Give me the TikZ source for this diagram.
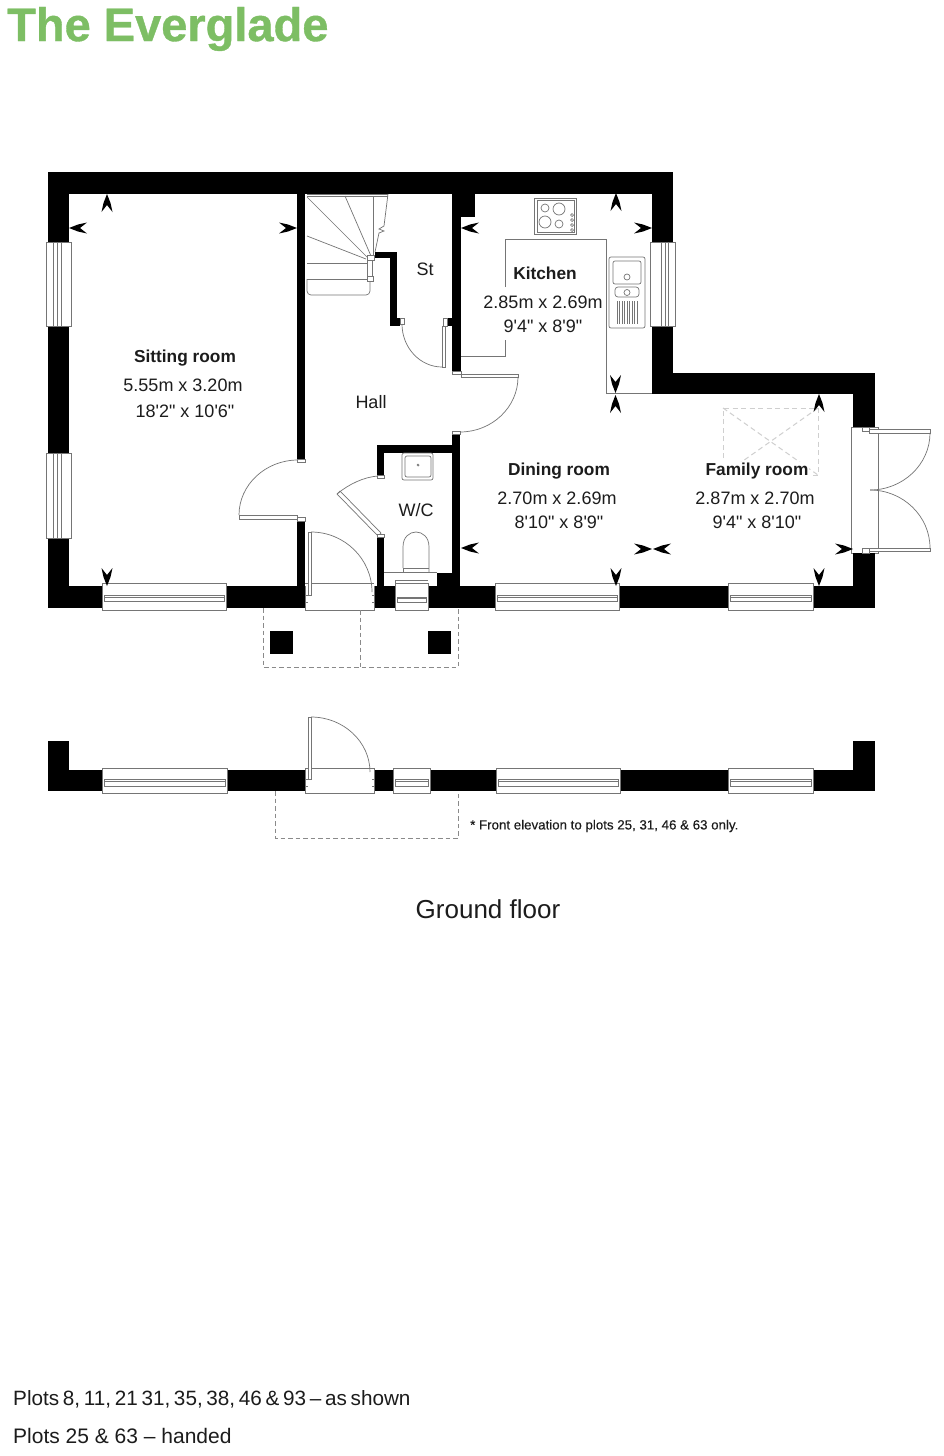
\documentclass[tikz,border=0pt]{standalone}
\usepackage{fontspec}
\setmainfont[Ligatures=TeXOff]{Liberation Sans}
\newfontfamily\titlefont[BoldFeatures={FakeBold=0.8},Ligatures=TeXOff]{Liberation Sans}
\newfontfamily\notefont[FakeBold=0.25,Ligatures=TeXOff]{Liberation Sans}
\usetikzlibrary{calc}
\definecolor{evgreen}{HTML}{7DBE64}
\definecolor{fineline}{HTML}{757575}
\definecolor{paleline}{HTML}{CFCFCF}
\definecolor{inktext}{HTML}{1C1C1C}
\tikzset{
  thin line/.style={draw=fineline,line width=0.7pt},
  open fill/.style={thin line,fill=white},
  dash porch/.style={draw=fineline!85,line width=0.7pt,dash pattern=on 4.5pt off 3pt},
  dash sky/.style={draw=paleline,line width=1pt,dash pattern=on 5pt off 3.5pt},
  roomname/.style={font=\fontsize{17.3}{20}\selectfont\bfseries,text=inktext,inner sep=1pt},
  roomsize/.style={font=\fontsize{18}{20}\selectfont,text=inktext,inner sep=1pt},
}
\newcommand\wall[4]{\fill[black] (#1,#2) rectangle (#3,#4);}
\newcommand\arr[4]{\fill[black] (#1,#2) -- (#1+9*#3+3.5*#4,#2+9*#4+3.5*#3) -- (#1+18*#3+5.5*#4,#2+18*#4+5.5*#3) -- (#1+11*#3,#2+11*#4) -- (#1+18*#3-5.5*#4,#2+18*#4-5.5*#3) -- (#1+9*#3-3.5*#4,#2+9*#4-3.5*#3) -- cycle;}
\newcommand\qa[6]{\draw[thin line] (#1,#2) .. controls ($(#1,#2)!.55!(#3,#4)$) and ($(#5,#6)!.55!(#3,#4)$) .. (#5,#6);}
% horizontal window: x1 x2 y1 y2 bar1 bar2
\newcommand\winh[6]{\draw[open fill] (#1,#3) rectangle (#2,#4);
  \draw[open fill] (#1+2,#5) rectangle (#2-2,#6);
  \draw[thin line] (#1+2,{#5+(#6-#5)*0.35}) -- (#2-2,{#5+(#6-#5)*0.35});}
% vertical window: y1 y2 x1 x2 bar1 bar2
\newcommand\winv[6]{\draw[open fill] (#3,#1) rectangle (#4,#2);
  \draw[thin line] (#5,#1) -- (#5,#2) (#6,#1) -- (#6,#2);
  \draw[thin line] ({#5+(#6-#5)*0.6},#1) -- ({#5+(#6-#5)*0.6},#2);}
\begin{document}
\begin{tikzpicture}[x=1pt,y=-1pt]
\useasboundingbox (0,0) rectangle (944,1456);
\fill[white] (0,0) rectangle (944,1456);

\node[anchor=west,inner sep=0pt,text=evgreen,font=\titlefont\bfseries\fontsize{47}{50}\selectfont] (title) at (7,29) {The Everglade};

% ---- outer walls
\wall{48}{172}{673}{194}
\wall{48}{172}{69}{242}
\wall{48}{326}{69}{453}
\wall{48}{538}{69}{608}
\wall{652}{172}{673}{242}
\wall{652}{326}{673}{394}
\wall{652}{373}{875}{394}
\wall{853}{373}{875}{427}
\wall{853}{553}{875}{608}
% bottom wall
\wall{48}{586}{102}{608}
\wall{226}{586}{305}{608}
\wall{374}{586}{395}{608}
\wall{428}{586}{495}{608}
\wall{619}{586}{728}{608}
\wall{813}{586}{875}{608}
% inner walls
\wall{297}{194}{305}{459}
\wall{297}{521}{305}{586}
\wall{452}{194}{461}{371}
\wall{452}{194}{475}{217}
\wall{452}{433}{460}{586}
\wall{437}{573}{460}{586}
\wall{377}{445}{452}{453}
\wall{377}{445}{384}{475}
\wall{377}{537}{384}{586}
% store walls
\wall{375}{252}{397}{258}
\wall{390}{252}{397}{326}
\wall{390}{318}{400}{326}
\wall{447}{318}{452}{326}

% ---- windows
\winv{242}{326}{46}{71}{53}{61}
\winv{453}{538}{46}{71}{53}{61}
\winv{242}{326}{650}{675}{661}{668}
\winh{102}{226}{583}{610}{595}{601}
\winh{395}{428}{583}{610}{597}{602}
\winh{495}{619}{583}{610}{595}{601}
\winh{728}{813}{583}{610}{595}{601}

% ---- front door
\draw[thin line] (305,583) -- (374,583);
\draw[thin line] (305,586) -- (305,610) -- (374,610) -- (374,586);
\draw[open fill] (308,532) rectangle (311,595);
\draw[thin line] (305,595) -- (308,595) (305,602) -- (308,602) (372,595) -- (374,595) (372,602) -- (374,602);
\qa{311}{532}{372}{532}{372}{592}

% ---- sitting room door
\draw[open fill] (239,515) rectangle (297,519);
\draw[open fill] (297,517) rectangle (305,521);
\draw[open fill] (297,459) rectangle (305,462);
\qa{298}{460}{239}{460}{239}{515}

% ---- WC door
\draw[open fill] (337,494) -- (340,491) -- (381,533) -- (378,536) -- cycle;
\draw[open fill] (377,534) rectangle (384,537);
\draw[open fill] (377,475) rectangle (384,478);
\draw[thin line] (378,476) .. controls (364,477) and (349,484) .. (337,494);

% ---- kitchen door
\draw[open fill] (461,374) rectangle (518,377);
\draw[open fill] (452,371) rectangle (461,374);
\draw[open fill] (452,431) rectangle (460,434);
\qa{518}{377}{518}{432}{460}{432}

% ---- store door
\draw[open fill] (442,326) rectangle (445,367);
\draw[open fill] (400,318) rectangle (404,324);
\draw[open fill] (443,318) rectangle (447,326);
\qa{402}{324}{402}{367}{442}{367}

% ---- French doors
\draw[open fill] (851,427) rectangle (878,553);
\wall{853}{373}{875}{427}
\wall{853}{553}{875}{608}
\draw[open fill] (869,429) rectangle (930,433);
\draw[open fill] (869,548) rectangle (930,551);
\draw[open fill] (862,427) rectangle (869,431);
\draw[open fill] (862,548) rectangle (869,553);
\qa{930}{433}{930}{490}{870}{490}
\qa{930}{548}{930}{490}{870}{490}

% ---- stairs
\draw[thin line] (307,196) -- (388,196);
\draw[thin line] (307,194) -- (388,194);
\draw[thin line] (388,194) -- (384,226) -- (379,229) -- (384,231) -- (379,233) -- (375,252);
\draw[thin line] (373,196) -- (373,255);
\draw[thin line] (307,197) -- (368,258);
\draw[thin line] (345,196) -- (371,256);
\draw[thin line] (307,236) -- (366,259);
\draw[thin line] (307,263) -- (367,263);
\draw[thin line] (307,279) -- (367,279);
\draw[thin line,rounded corners=4pt] (307,279) -- (307,295) -- (370,295) -- (370,280);
\draw[thin line] (367,260) -- (367,276) (372,260) -- (372,276);
\draw[open fill] (367,255) rectangle (374,260);
\draw[open fill] (367,276) rectangle (373,281);

% ---- kitchen worktop
\draw[thin line] (505,287) -- (505,239) -- (606,239) -- (606,393) -- (652,393);
\draw[thin line] (505,340) -- (505,356.5) -- (461,356.5);
\draw[open fill] (534,198) rectangle (576,234);
\draw[thin line] (537,200) rectangle (574,232);
\draw[thin line] (545,208) circle[radius=4];
\draw[thin line] (559,209) circle[radius=6];
\draw[thin line] (545,222) circle[radius=6];
\draw[thin line] (559,224) circle[radius=4];
\foreach \ky in {215,220,225,230}{\draw[thin line] (572,\ky) circle[radius=1.5];}
\draw[thin line,rounded corners=2pt] (609,257) rectangle (645,328);
\draw[thin line,rounded corners=2pt] (613,261) rectangle (641,284);
\draw[thin line] (627,277) circle[radius=3];
\draw[thin line,rounded corners=3pt] (615,287) rectangle (639,297);
\draw[thin line] (627,292.5) circle[radius=3];
\foreach \dx in {617,619.5,...,637.5}{\draw[thin line] (\dx,301) -- (\dx,324);}

% ---- WC fittings
\draw[thin line,rounded corners=2pt] (402,453) rectangle (433,480);
\draw[thin line,rounded corners=2pt] (405,456) rectangle (431,477);
\draw[thin line] (418,465) circle[radius=1];
\draw[thin line] (403,568) -- (403,547) .. controls (403,527) and (429,527) .. (429,547) -- (429,572);
\draw[thin line] (403,568) -- (403,572) (403,568) -- (429,568);
\draw[thin line] (384,572) -- (437,572);
\draw[thin line] (395,583) -- (395,580) (395,580) -- (428,580);

% ---- porch
\draw[dash porch] (263,608) -- (263,667) -- (458,667) -- (458,608);
\draw[dash porch] (360.5,610) -- (360.5,667);
\wall{270}{631}{293}{654}
\wall{428}{631}{451}{654}

% ---- skylight
\draw[dash sky] (723,475) -- (723,408) -- (818,408) -- (818,475) -- cycle;
\draw[dash sky] (723,408) -- (818,475) (818,408) -- (723,475);

% ---- dimension arrows
\arr{107}{194}{0}{1}
\arr{69}{228}{1}{0}
\arr{297}{228}{-1}{0}
\arr{107}{586}{0}{-1}
\arr{461}{228}{1}{0}
\arr{616}{193}{0}{1}
\arr{652}{228}{-1}{0}
\arr{615.5}{393}{0}{-1}
\arr{615.5}{395}{0}{1}
\arr{461}{548}{1}{0}
\arr{616}{586}{0}{-1}
\arr{652}{549}{-1}{0}
\arr{653}{549}{1}{0}
\arr{819}{394}{0}{1}
\arr{853}{549}{-1}{0}
\arr{819}{586}{0}{-1}

% ---- room texts
\node[roomname] (sitname) at (185,358) {Sitting room};
\node[roomsize] (sitm) at (183,385) {5.55m x 3.20m};
\node[roomsize] (sitf) at (185,411) {18'2" x 10'6"};
\node[roomsize] (hall) at (371,402) {Hall};
\node[roomsize] (store) at (425,269) {St};
\node[roomname] (kitname) at (545,273) {Kitchen};
\node[roomsize] (kitm) at (543,302) {2.85m x 2.69m};
\node[roomsize] (kitf) at (543,326) {9'4" x 8'9"};
\node[roomsize] (wc) at (416,510) {W/C};
\node[roomname] (dinname) at (559,471) {Dining room};
\node[roomsize] (dinm) at (557,498) {2.70m x 2.69m};
\node[roomsize] (dinf) at (559,522) {8'10" x 8'9"};
\node[roomname,fill=white] (famname) at (757,471) {Family room};
\node[roomsize] (famm) at (755,498) {2.87m x 2.70m};
\node[roomsize] (famf) at (757,522) {9'4" x 8'10"};

% ---- front elevation
\wall{48}{741}{69}{791}
\wall{853}{741}{875}{791}
\wall{48}{770}{102}{791}
\wall{227}{770}{305}{791}
\wall{374}{770}{393}{791}
\wall{430}{770}{496}{791}
\wall{620}{770}{728}{791}
\wall{813}{770}{875}{791}
\winh{102}{227}{768}{793}{779}{786}
\winh{393}{430}{768}{793}{779}{786}
\winh{496}{620}{768}{793}{779}{786}
\winh{728}{813}{768}{793}{779}{786}
\draw[thin line] (305,768) -- (374,768);
\draw[thin line] (305,768) -- (305,793) -- (374,793) -- (374,768);
\draw[open fill] (308,717) rectangle (311,779);
\draw[thin line] (305,779) -- (308,779) (305,786) -- (308,786) (372,779) -- (374,779) (372,786) -- (374,786);
\qa{311}{717}{370}{717}{370}{772}
\draw[dash porch] (275,791) -- (275,838) -- (458,838) -- (458,791);

\node[anchor=west,inner sep=0pt,text=inktext,font=\notefont\fontsize{13.3}{15}\selectfont] (note) at (470,826) {* Front elevation to plots 25, 31, 46 \& 63 only.};
\node[inner sep=0pt,text=inktext,font=\fontsize{26}{28}\selectfont] (floor) at (488,909) {Ground floor};
\node[anchor=west,inner sep=0pt,text=inktext,font=\fontsize{20.7}{24}\selectfont] (plotsa) at (13,1399) {\spaceskip=3.7pt\relax Plots 8, 11, 21 31, 35, 38, 46 \& 93 – as shown};
\node[anchor=west,inner sep=0pt,text=inktext,font=\fontsize{21}{24}\selectfont] (plotsb) at (13,1435.5) {Plots 25 \& 63 – handed};
\end{tikzpicture}
\end{document}
